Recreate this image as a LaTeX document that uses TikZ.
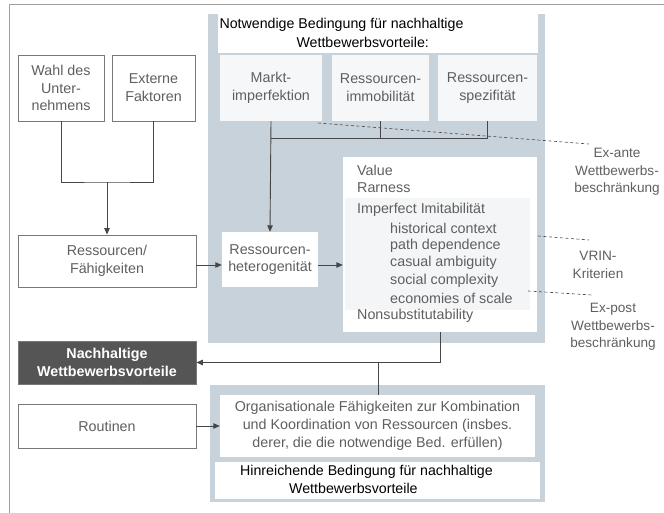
\documentclass[tikz,border=0pt]{standalone}
\usepackage{fontspec}
\setmainfont{Liberation Sans}
\usetikzlibrary{arrows.meta}
\definecolor{panel}{RGB}{200,210,218}
\definecolor{txt}{RGB}{95,95,95}
\definecolor{ln}{RGB}{70,70,70}
\definecolor{bd}{RGB}{120,120,120}
\definecolor{dark}{RGB}{85,85,85}
\definecolor{faint}{RGB}{246,247,248}
\definecolor{inner}{RGB}{244,245,246}
\tikzset{
  every node/.style={font=\fontsize{14.3}{17.8}\selectfont, inner sep=0pt},
  obox/.style={draw=bd, line width=0.8pt, fill=white, text=txt, align=center},
  pbox/.style={fill=faint, text=txt, align=center},
  wbox/.style={fill=white, text=black, align=center},
  conn/.style={draw=ln, line width=0.9pt},
  arr/.style={conn, -{Triangle[length=6.5pt,width=5.5pt]}},
  dsh/.style={draw=ln, line width=0.6pt, dash pattern=on 3pt off 2.5pt},
  lab/.style={text=txt, align=center, font=\fontsize{13.6}{17.5}\selectfont}
}
\begin{document}
\begin{tikzpicture}[x=1pt,y=-1pt]
\useasboundingbox (0,0) rectangle (664,513);
% outer frame
\draw[draw=bd!70, line width=1pt] (664,5) -- (9,5) -- (9,513);
% panels
\fill[panel] (208,14) rectangle (545,343);
\fill[panel] (210,385) rectangle (545,502);
% header
\node[wbox, minimum width=320pt, minimum height=39pt] (head) at (378,33.5) {};
\node[text=black, align=left, font=\fontsize{14.2}{19}\selectfont] (headt) at (341.5,32.5)
  {Notwendige Bedingung für nachhaltige\\\hspace*{77pt}Wettbewerbsvorteile:};
% three condition boxes
\node[pbox, minimum width=102pt, minimum height=66pt] (markt) at (271,88) {Markt-\\imperfektion};
\node[pbox, minimum width=97pt, minimum height=66pt] (immo) at (380.5,88) {Ressourcen-\\immobilität};
\node[pbox, minimum width=99pt, minimum height=66pt] (spez) at (487.5,88) {Ressourcen-\\spezifität};
% heterogeneity
\node[pbox, fill=white, minimum width=96pt, minimum height=55pt] (het) at (270,259.5) {Ressourcen-\\heterogenität};
% VRIN box
\node[fill=white, minimum width=194pt, minimum height=175pt] (vrin) at (440,244.5) {};
\fill[inner] (345,198) rectangle (530,310);
\node[text=txt, anchor=west] (v1) at (357,170) {Value};
\node[text=txt, anchor=west] (v2) at (357,187.5) {Rarness};
\node[text=txt, anchor=west] (v3) at (357,210) {Imperfect Imitabilität};
\node[text=txt, anchor=west] (v4) at (390,228) {historical context};
\node[text=txt, anchor=west] (v5) at (390,245.5) {path dependence};
\node[text=txt, anchor=west] (v6) at (390,263) {casual ambiguity};
\node[text=txt, anchor=west] (v7) at (390,280.5) {social complexity};
\node[text=txt, anchor=west] (v8) at (390,298) {economies of scale};
\node[text=txt, anchor=west] (v9) at (357,316) {Nonsubstitutability};
% left boxes
\node[obox, minimum width=86pt, minimum height=66pt] (wahl) at (61,88) {Wahl des\\Unter-\\nehmens};
\node[obox, minimum width=83pt, minimum height=66pt] (ext) at (153.5,88) {Externe\\Faktoren};
\node[obox, minimum width=178pt, minimum height=52pt] (ressF) at (107,261) {Ressourcen/\\Fähigkeiten};
\node[draw=bd, line width=0.8pt, fill=dark, text=white, font=\fontsize{14.3}{18}\selectfont\bfseries, align=center,
  minimum width=178pt, minimum height=43pt] (nach) at (107,362.5) {Nachhaltige\\Wettbewerbsvorteile};
\node[obox, minimum width=178pt, minimum height=44pt] (rout) at (107,426) {Routinen};
% organisational
\node[pbox, fill=white, minimum width=315pt, minimum height=62pt] (org) at (377.5,426)
  {Organisationale Fähigkeiten zur Kombination\\und Koordination von Ressourcen (insbes.\\derer, die die notwendige Bed. erfüllen)};
\node[wbox, minimum width=325pt, minimum height=37pt] (hin) at (377.5,480.5) {};
\node[text=black, align=left, font=\fontsize{14.2}{17.5}\selectfont] (hint) at (366.5,479.5)
  {Hinreichende Bedingung für nachhaltige\\\hspace*{49pt}Wettbewerbsvorteile};
% connectors left
\coordinate (j1) at (107,182);
\draw[conn] (wahl.south) |- (j1) -| (ext.south);
\draw[arr] (j1) -- (ressF.north);
\draw[arr] (ressF.east |- 0,265) coordinate (rf) -- (het.west |- rf);
\draw[arr] (het.east |- 0,265) coordinate (hr) -- (vrin.west |- hr);
% connectors from conditions
\coordinate (j2) at (271,138);
\draw[arr] (markt.south) -- (het.north);
\draw[conn] (j2) -- (spez.south |- j2) -- (spez.south);
\draw[conn] (immo.south) -- (immo.south |- j2);
% VRIN to outcome
\draw[arr] (vrin.south) |- (nach.east);
\coordinate (j3) at (378,362.5);
\draw[conn] (j3) -- (j3 |- org.north);
\draw[arr] (rout.east) -- (org.west);
% right labels
\node[lab] (exante) at (617,172) {Ex-ante\\Wettbewerbs-\\beschränkung};
\node[lab] (vrinl) at (598,265) {VRIN-\\Kriterien};
\node[lab] (expost) at (613,327) {Ex-post\\Wettbewerbs-\\beschränkung};
\coordinate (d1a) at (318,123);
\coordinate (d1b) at (589,144);
\coordinate (d2a) at (538,236);
\coordinate (d2b) at (589,240);
\coordinate (d3a) at (528,291);
\coordinate (d3b) at (592,295);
\draw[dsh] (d1a) -- (d1b);
\draw[dsh] (d2a) -- (d2b);
\draw[dsh] (d3a) -- (d3b);
\end{tikzpicture}
\end{document}
